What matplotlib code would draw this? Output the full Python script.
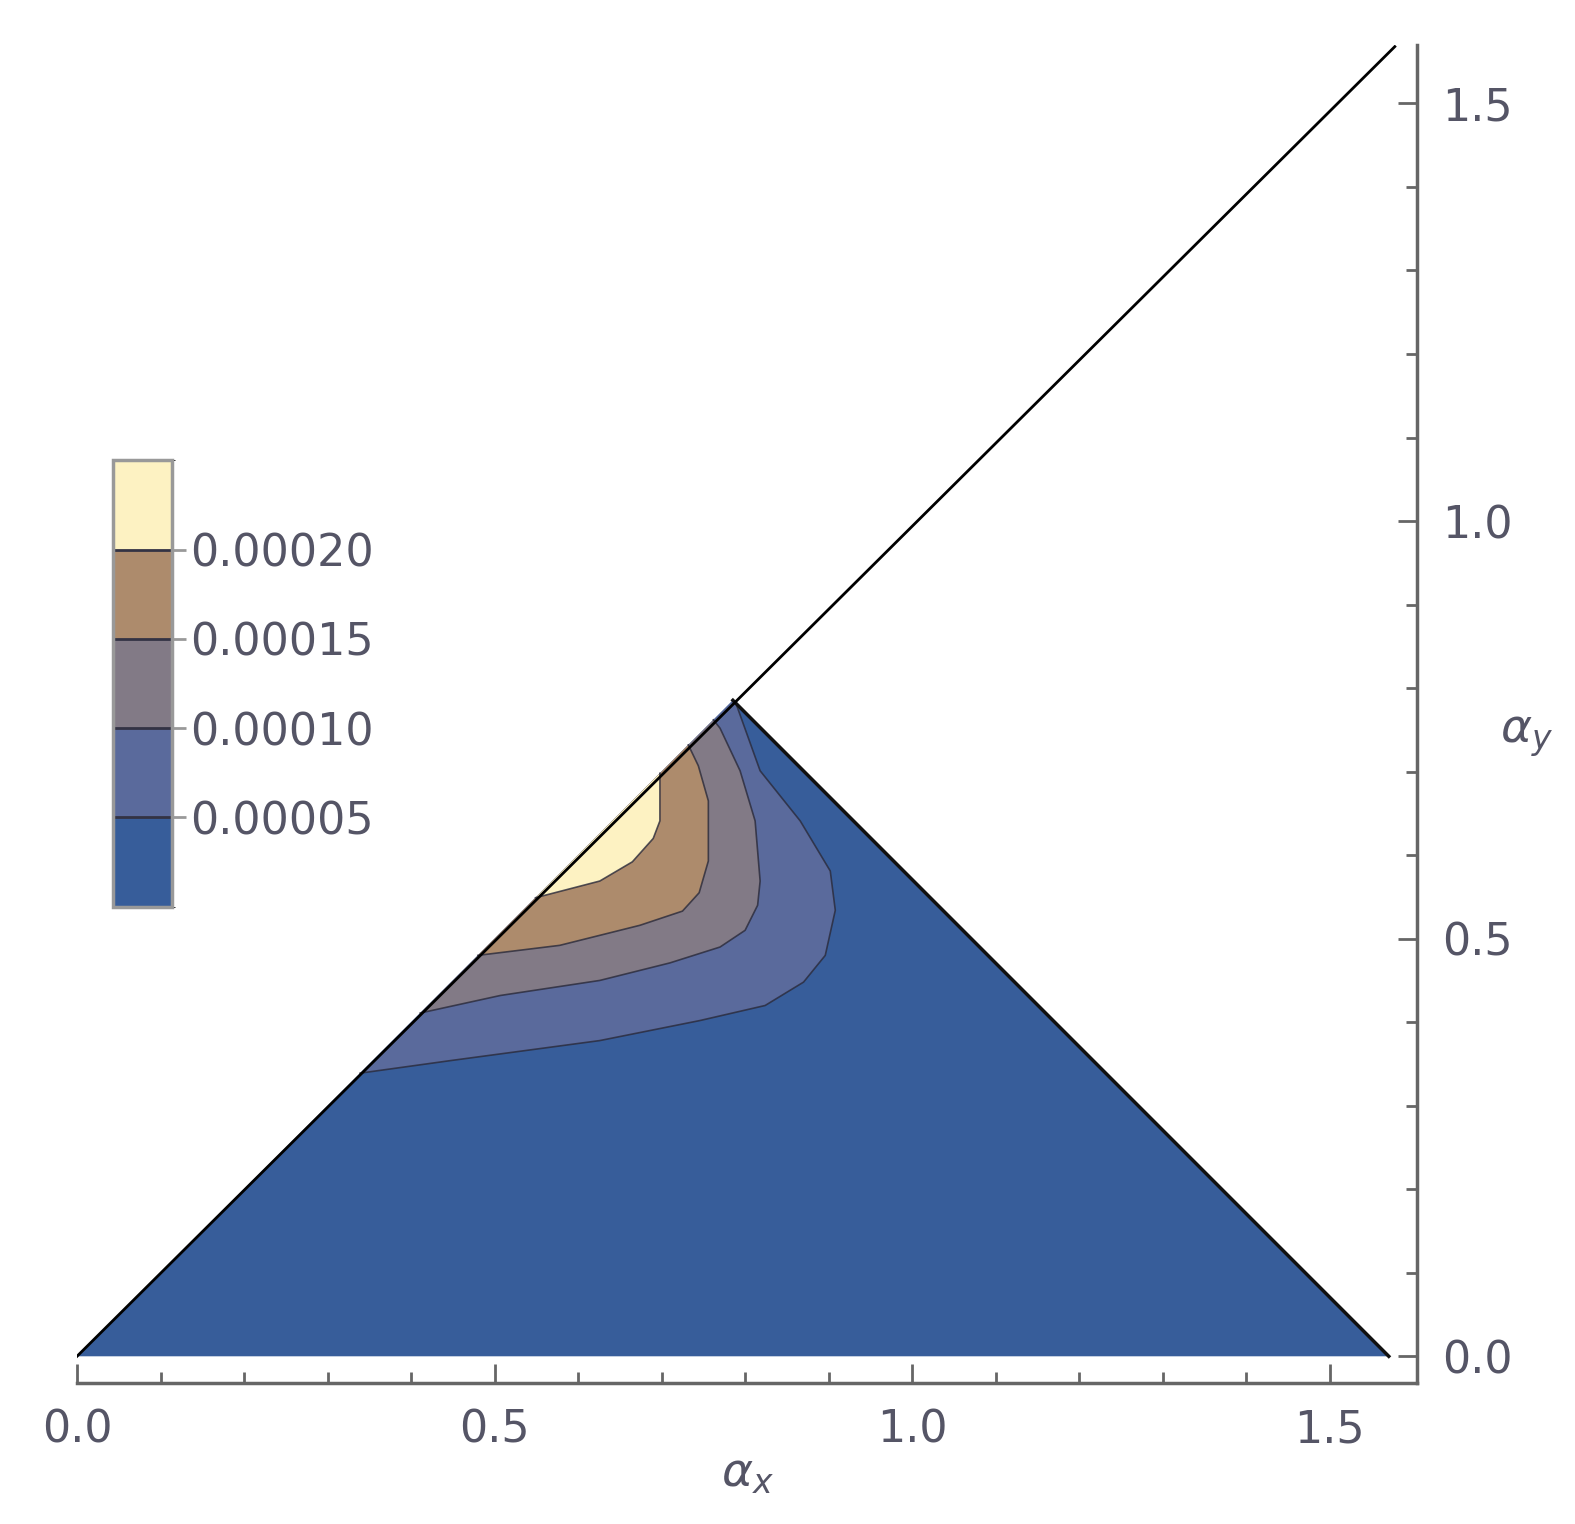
import numpy as np
import matplotlib
matplotlib.use("Agg")
import matplotlib.pyplot as plt
from matplotlib.colors import ListedColormap, BoundaryNorm
from matplotlib.patches import Polygon
import matplotlib.colorbar as mcb

levels = [0.0, 0.00005, 0.00010, 0.00015, 0.00020, 0.00025]
colors = ["#375d9a", "#5a6a9c", "#827a86", "#ad8b6c", "#fdf2c2"]
tick_labels = ["0.00005", "0.00010", "0.00015", "0.00020"]

# contour boundaries (alpha_x, alpha_y)
c05_x = [0.339, 0.447, 0.626, 0.746, 0.824, 0.870, 0.896, 0.908, 0.902, 0.866, 0.818, 0.790]
c05_y = [0.339, 0.354, 0.378, 0.402, 0.420, 0.448, 0.480, 0.534, 0.581, 0.641, 0.701, 0.779]
c10_x = [0.411, 0.507, 0.626, 0.710, 0.770, 0.800, 0.815, 0.818, 0.812, 0.794, 0.770, 0.762]
c10_y = [0.411, 0.432, 0.450, 0.471, 0.490, 0.510, 0.540, 0.569, 0.641, 0.701, 0.752, 0.762]
c15_x = [0.480, 0.578, 0.674, 0.725, 0.745, 0.756, 0.756, 0.744, 0.732]
c15_y = [0.480, 0.492, 0.516, 0.533, 0.555, 0.593, 0.665, 0.707, 0.732]
c20_x = [0.549, 0.626, 0.665, 0.690, 0.698, 0.698, 0.698]
c20_y = [0.549, 0.569, 0.592, 0.620, 0.641, 0.670, 0.698]

q = np.pi / 4
fig = plt.figure(figsize=(15.75, 15.24), dpi=100)
ax = fig.add_axes([0.0489, 0.0925, 0.851, 0.878])
ax.set_xlim(0, 1.605)
ax.set_ylim(-0.032, 1.57)

ax.add_patch(Polygon([(0, 0), (q, q), (2 * q, 0)], closed=True, fc=colors[0], ec="none"))
curves = [(c05_x, c05_y), (c10_x, c10_y), (c15_x, c15_y), (c20_x, c20_y)]
for i, (cx, cy) in enumerate(curves):
    pts = list(zip(cx, cy))
    if i == 0:
        pts.append((q, q))
    ax.add_patch(Polygon(pts, closed=True, fc=colors[i + 1], ec="none"))
    ax.plot(cx, cy, color="#2a2a3a", lw=1.2, alpha=0.8)
ax.plot([q, 2 * q], [q, 0], color="#111111", lw=2.5)
ax.plot([0, 1.578], [0, 1.568], color="black", lw=2)

for s in ["top", "left"]:
    ax.spines[s].set_visible(False)
for s in ["bottom", "right"]:
    ax.spines[s].set_color("#666666")
    ax.spines[s].set_linewidth(2.5)
ax.yaxis.tick_right()
ax.yaxis.set_label_position("right")
ax.set_xticks([0, 0.5, 1.0, 1.5])
ax.set_yticks([0, 0.5, 1.0, 1.5])
ax.set_xticks(np.arange(0.1, 1.6, 0.1), minor=True)
ax.set_yticks(np.arange(0.1, 1.6, 0.1), minor=True)
ax.tick_params(which="major", direction="in", length=14, width=2, color="#666666", labelsize=32, labelcolor="#555566", pad=18)
ax.tick_params(which="minor", direction="in", length=8, width=2, color="#666666")
ax.set_xticklabels(["0.0", "0.5", "1.0", "1.5"])
ax.set_yticklabels(["0.0", "0.5", "1.0", "1.5"])
ax.set_xlabel(r"$\alpha_x$", fontsize=34, color="#555566", labelpad=0)
ax.set_ylabel(r"$\alpha_y$", fontsize=34, color="#555566", rotation=0, labelpad=10)

cax = fig.add_axes([0.0717, 0.405, 0.0375, 0.293])
cmap = ListedColormap(colors)
norm = BoundaryNorm(levels, cmap.N)
cb = mcb.ColorbarBase(cax, cmap=cmap, norm=norm, boundaries=levels, ticks=levels[1:5])
cb.set_ticklabels(tick_labels)
cb.outline.set_edgecolor("#999999")
cb.outline.set_linewidth(2.5)
cax.tick_params(length=10, width=2, color="#999999", labelsize=32, labelcolor="#555566", pad=3)
for lv in levels[1:5]:
    cax.axhline(lv, color="#333344", lw=2)

fig.savefig("out.png", dpi=100)
